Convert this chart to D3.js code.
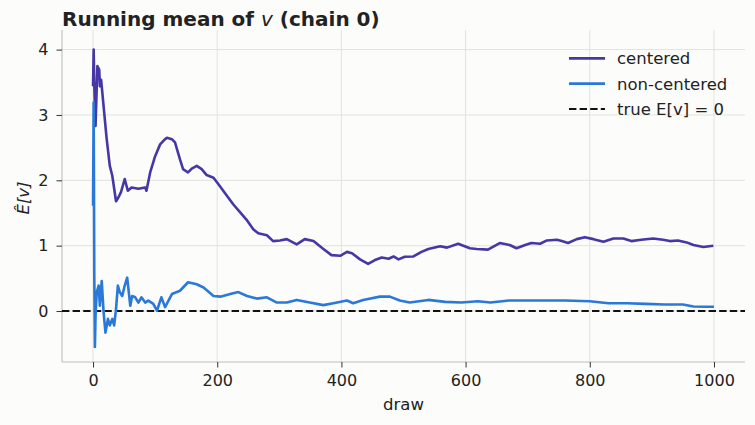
<!DOCTYPE html>
<html>
<head>
<meta charset="utf-8">
<script src="https://cdn.jsdelivr.net/npm/d3@7"></script>
<style>
  body { margin: 0; background: #fcfcfa; }
  text { font-family: "DejaVu Sans", sans-serif; fill: #222; }
</style>
</head>
<body>
<script>
// running mean
const centeredDraw = [0, 1, 2, 4, 7, 10, 11, 13, 17, 22, 27, 31, 37, 41, 45, 51, 56, 62, 73, 84, 86, 92, 100, 108, 116, 119, 127, 132, 140, 145, 153, 159, 167, 175, 183, 194, 202, 212, 226, 237, 247, 258, 266, 280, 290, 301, 312, 328, 341, 355, 371, 384, 398, 409, 417, 430, 443, 454, 465, 476, 484, 492, 502, 516, 529, 540, 559, 570, 588, 607, 618, 636, 655, 671, 682, 696, 706, 720, 731, 747, 755, 765, 779, 792, 806, 822, 838, 854, 867, 883, 902, 918, 929, 942, 956, 967, 983, 999]
const centeredMean = [3.44, 4.0, 3.45, 2.83, 3.75, 3.69, 3.44, 3.54, 3.13, 2.63, 2.22, 2.07, 1.68, 1.74, 1.82, 2.02, 1.84, 1.89, 1.87, 1.89, 1.84, 2.12, 2.37, 2.55, 2.63, 2.65, 2.63, 2.58, 2.32, 2.17, 2.12, 2.18, 2.22, 2.17, 2.08, 2.04, 1.94, 1.81, 1.63, 1.51, 1.40, 1.25, 1.19, 1.16, 1.07, 1.08, 1.10, 1.02, 1.10, 1.07, 0.95, 0.855, 0.845, 0.905, 0.885, 0.79, 0.72, 0.78, 0.82, 0.80, 0.835, 0.79, 0.83, 0.835, 0.905, 0.95, 0.99, 0.97, 1.03, 0.96, 0.95, 0.94, 1.04, 1.01, 0.96, 1.01, 1.04, 1.03, 1.08, 1.09, 1.07, 1.04, 1.10, 1.13, 1.10, 1.06, 1.11, 1.11, 1.07, 1.09, 1.11, 1.09, 1.07, 1.08, 1.05, 1.01, 0.98, 1.00]

const nonCenteredDraw = [0, 1, 2, 3, 4, 6, 9, 11, 14, 17, 20, 24, 27, 31, 34, 37, 40, 43, 47, 51, 55, 60, 63, 68, 73, 78, 84, 89, 97, 103, 110, 116, 127, 140, 153, 167, 178, 194, 205, 221, 234, 248, 264, 280, 296, 312, 328, 349, 371, 387, 409, 419, 435, 462, 478, 494, 510, 540, 567, 593, 620, 640, 670, 700, 730, 760, 800, 830, 860, 890, 920, 950, 967, 988, 1000]
const nonCenteredMean = [1.61, 3.19, 0.56, -0.55, -0.07, 0.29, 0.39, 0.08, 0.46, -0.02, -0.33, -0.12, -0.22, -0.12, -0.22, 0.03, 0.39, 0.29, 0.23, 0.39, 0.51, 0.08, 0.23, 0.21, 0.13, 0.21, 0.13, 0.16, 0.11, 0.005, 0.21, 0.06, 0.26, 0.31, 0.44, 0.41, 0.36, 0.23, 0.22, 0.26, 0.29, 0.23, 0.19, 0.21, 0.13, 0.13, 0.17, 0.13, 0.09, 0.12, 0.16, 0.12, 0.17, 0.22, 0.22, 0.16, 0.13, 0.17, 0.14, 0.13, 0.15, 0.13, 0.16, 0.16, 0.16, 0.16, 0.15, 0.12, 0.12, 0.11, 0.10, 0.10, 0.07, 0.065, 0.065]

const xTicks = [0, 200, 400, 600, 800, 1000]
const yTicks = [0, 1, 2, 3, 4]
const seriesNames = ["centered", "non-centered", "true E[v] = 0"]
const seriesColors = ["#4637a6", "#2a79d8", "#111"]

const width = 755, height = 425
const margin = {top: 30, right: 10, bottom: 63, left: 62}
const dash = '7.4,3.2'

const svg = d3.select('body')
  .append('svg')
  .attr('width', width)
  .attr('height', height)
  .style('background', '#fcfcfa')

const x = d3.scaleLinear().domain([-50, 1050]).range([margin.left, width - margin.right])
const y = d3.scaleLinear().domain([-0.78, 4.3]).range([height - margin.bottom, margin.top])

// grid
svg.append('g').selectAll('line')
  .data(xTicks).enter().append('line')
  .attr('x1', d => x(d)).attr('x2', d => x(d))
  .attr('y1', margin.top).attr('y2', height - margin.bottom)
  .attr('stroke', '#e2e2dd').attr('stroke-width', 1)
svg.append('g').selectAll('line')
  .data(yTicks).enter().append('line')
  .attr('x1', margin.left).attr('x2', width - margin.right)
  .attr('y1', d => y(d)).attr('y2', d => y(d))
  .attr('stroke', '#e2e2dd').attr('stroke-width', 1)

// axes
const xAxis = svg.append('g')
  .attr('transform', `translate(0,${height - margin.bottom})`)
  .call(d3.axisBottom(x).tickValues(xTicks).tickFormat(d3.format('d')).tickSize(5.5).tickPadding(7))
const yAxis = svg.append('g')
  .attr('transform', `translate(${margin.left},0)`)
  .call(d3.axisLeft(y).tickValues(yTicks).tickFormat(d3.format('d')).tickSize(5.5).tickPadding(8))

;[xAxis, yAxis].forEach(a => {
  a.select('.domain').attr('stroke', '#bdbdb8').attr('stroke-width', 1.1)
  a.selectAll('.tick line').attr('stroke', '#333')
  a.selectAll('.tick text').attr('font-size', 16).attr('fill', '#222')
    .attr('font-family', '"DejaVu Sans", sans-serif')
})
xAxis.select('.domain').attr('d', `M${margin.left},0H${width - margin.right}`)
yAxis.select('.domain').attr('d', `M0,${margin.top}V${height - margin.bottom}`)

// true mean
svg.append('line')
  .attr('x1', margin.left).attr('x2', width - margin.right)
  .attr('y1', y(0)).attr('y2', y(0))
  .attr('stroke', seriesColors[2]).attr('stroke-width', 2)
  .attr('stroke-dasharray', dash)

const line = d3.line().x(d => x(d[0])).y(d => y(d[1]))

svg.append('path')
  .datum(d3.zip(centeredDraw, centeredMean))
  .attr('d', line)
  .attr('fill', 'none').attr('stroke', seriesColors[0])
  .attr('stroke-width', 2.6).attr('stroke-linejoin', 'round')

svg.append('path')
  .datum(d3.zip(nonCenteredDraw, nonCenteredMean))
  .attr('d', line)
  .attr('fill', 'none').attr('stroke', seriesColors[1])
  .attr('stroke-width', 2.6).attr('stroke-linejoin', 'round')

// labels
const title = svg.append('text')
  .attr('x', margin.left).attr('y', 25.5)
  .attr('font-size', 20).attr('font-weight', 'bold')
title.append('tspan').text('Running mean of ')
title.append('tspan').text('v').attr('font-style', 'italic').attr('font-weight', 'normal')
title.append('tspan').text(' (chain 0)')

svg.append('text')
  .attr('x', x(500)).attr('y', 410)
  .attr('text-anchor', 'middle').attr('font-size', 16.5)
  .text('draw')

svg.append('text')
  .attr('transform', `translate(29,${(margin.top + height - margin.bottom) / 2 + 2}) rotate(-90)`)
  .attr('text-anchor', 'middle').attr('font-size', 16.5).attr('font-style', 'italic')
  .text('Ê[v]')

// legend
const legend = svg.append('g').selectAll('g')
  .data(seriesNames).enter().append('g')
  .attr('transform', (d, i) => `translate(569,${58.3 + i * 25.3})`)
legend.append('line')
  .attr('x1', 0).attr('x2', 36)
  .attr('stroke', (d, i) => seriesColors[i])
  .attr('stroke-width', (d, i) => i < 2 ? 2.8 : 2)
  .attr('stroke-dasharray', (d, i) => i < 2 ? null : dash)
legend.append('text')
  .attr('x', 48).attr('y', 6)
  .attr('font-size', 16.5)
  .text(d => d)
</script>
</body>
</html>
